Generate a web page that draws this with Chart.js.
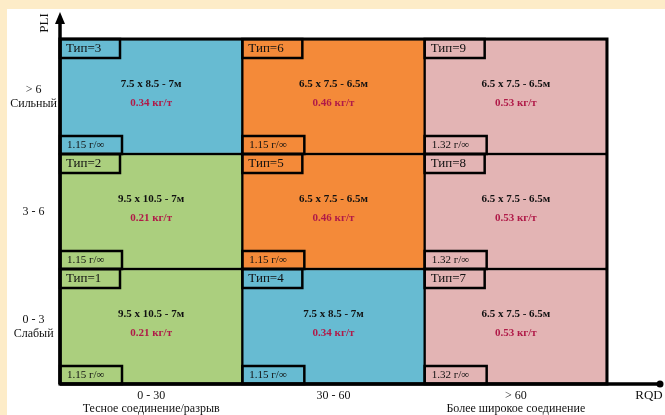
<!DOCTYPE html>
<html>
<head>
<meta charset="utf-8">
<style>
  html, body { margin: 0; padding: 0; background: #fdecc8; }
  canvas { display: block; }
</style>
<script src="https://cdn.jsdelivr.net/npm/chart.js@4/dist/chart.umd.min.js"></script>
</head>
<body>
<canvas id="chart" width="665" height="415"></canvas>
<script>
// RQD classes (columns) and PLI classes (rows, bottom to top)
const rqdClasses = ['0 - 30', '30 - 60', '> 60'];
const rqdNotes = ['Тесное соединение/разрыв', '', 'Более широкое соединение'];
const pliClasses = ['0 - 3', '3 - 6', '> 6'];
const pliNotes = ['Слабый', '', 'Сильный'];

// blast type in each cell, row = PLI class, column = RQD class
const typeGrid = [
  [1, 4, 7],
  [2, 5, 8],
  [3, 6, 9]
];

// per type (index = type - 1)
const patterns = ['9.5 x 10.5 - 7м', '9.5 x 10.5 - 7м', '7.5 x 8.5 - 7м', '7.5 x 8.5 - 7м',
  '6.5 x 7.5 - 6.5м', '6.5 x 7.5 - 6.5м', '6.5 x 7.5 - 6.5м', '6.5 x 7.5 - 6.5м', '6.5 x 7.5 - 6.5м'];
const powderFactors = [0.21, 0.21, 0.34, 0.34, 0.46, 0.46, 0.53, 0.53, 0.53];
const densities = [1.15, 1.15, 1.15, 1.15, 1.15, 1.15, 1.32, 1.32, 1.32];

// colours
const typeColors = ['#abcf7e', '#abcf7e', '#67bbd2', '#67bbd2', '#f48a39', '#f48a39', '#e3b4b4', '#e3b4b4', '#e3b4b4'];
const SERIF = "'Liberation Serif', 'DejaVu Serif', serif";
const PF_COLOR = '#b01a48';

const background = {
  id: 'background',
  beforeDraw(chart) {
    const ctx = chart.ctx;
    ctx.save();
    ctx.fillStyle = '#fdecc8';
    ctx.fillRect(0, 0, chart.width, chart.height);
    ctx.fillStyle = '#ffffff';
    ctx.fillRect(7, 9, chart.width - 7, chart.height - 9);
    ctx.restore();
  }
};

const cellLabels = {
  id: 'cellLabels',
  afterDatasetsDraw(chart) {
    const ctx = chart.ctx;
    const area = chart.chartArea;
    ctx.save();
    chart.data.datasets.forEach((ds, row) => {
      chart.getDatasetMeta(row).data.forEach((bar, col) => {
        const t = typeGrid[row][col];
        const left = bar.x - bar.width / 2;
        const right = bar.x + bar.width / 2;
        const top = Math.min(bar.y, bar.base);
        const bottom = Math.max(bar.y, bar.base);
        const cy = (top + bottom) / 2;

        // small boxes
        ctx.strokeStyle = '#000';
        ctx.lineWidth = 2.5;
        ctx.strokeRect(left, top, 60, 19);
        ctx.strokeRect(left, bottom - 18, 62, 18);

        ctx.fillStyle = '#111';
        ctx.textAlign = 'left';
        ctx.textBaseline = 'middle';
        ctx.font = '13px ' + SERIF;
        ctx.fillText('Тип=' + t, left + 6, top + 10);
        ctx.font = '11px ' + SERIF;
        ctx.fillText(densities[t - 1].toFixed(2) + ' г/∞', left + 7, bottom - 9);

        // centre text
        ctx.textAlign = 'center';
        ctx.font = 'bold 11px ' + SERIF;
        ctx.fillStyle = '#111';
        ctx.fillText(patterns[t - 1], bar.x, cy - 12);
        ctx.fillStyle = PF_COLOR;
        ctx.fillText(powderFactors[t - 1].toFixed(2) + ' кг/т', bar.x, cy + 7);
      });
    });

    // outer frame
    ctx.strokeStyle = '#000';
    ctx.lineWidth = 3;
    ctx.strokeRect(area.left, area.top, area.right - area.left, area.bottom - area.top);

    // axes with arrow and dot
    ctx.beginPath();
    ctx.moveTo(area.left, area.bottom);
    ctx.lineTo(area.left, 20);
    ctx.moveTo(area.left, area.bottom);
    ctx.lineTo(660, area.bottom);
    ctx.lineWidth = 3.5;
    ctx.stroke();
    ctx.fillStyle = '#000';
    ctx.beginPath();
    ctx.moveTo(area.left, 12);
    ctx.lineTo(area.left - 5, 24);
    ctx.lineTo(area.left + 5, 24);
    ctx.closePath();
    ctx.fill();
    ctx.beginPath();
    ctx.arc(660, area.bottom, 3.5, 0, Math.PI * 2);
    ctx.fill();

    // axis titles
    ctx.font = '13px ' + SERIF;
    ctx.fillStyle = '#111';
    ctx.textAlign = 'center';
    ctx.textBaseline = 'middle';
    ctx.fillText('RQD', 649, 396);
    ctx.translate(45, 23);
    ctx.rotate(-Math.PI / 2);
    ctx.fillText('PLI', 0, 0);
    ctx.restore();
  }
};

new Chart(document.getElementById('chart'), {
  type: 'bar',
  data: {
    labels: rqdClasses.map((c, i) => rqdNotes[i] ? [c, rqdNotes[i]] : c),
    datasets: pliClasses.map((p, row) => ({
      label: p,
      data: rqdClasses.map(() => 1),
      backgroundColor: typeGrid[row].map(t => typeColors[t - 1]),
      borderColor: '#000',
      borderWidth: 1.5,
      borderSkipped: false,
      barPercentage: 1,
      categoryPercentage: 1
    }))
  },
  options: {
    responsive: false,
    animation: false,
    layout: { padding: { left: 8, top: 39, right: 58, bottom: 0 } },
    plugins: { legend: { display: false }, tooltip: { enabled: false } },
    scales: {
      x: {
        stacked: true,
        grid: { display: false, drawTicks: false },
        border: { display: false },
        afterFit: scale => { scale.height = 31; },
        ticks: {
          padding: 5,
          color: '#111',
          maxRotation: 0,
          autoSkip: false,
          font: { family: SERIF, size: 12, lineHeight: 1.1 }
        }
      },
      y: {
        stacked: true,
        min: 0,
        max: 3,
        grid: { display: false, drawTicks: false },
        border: { display: false },
        afterFit: scale => { scale.width = 52; },
        afterBuildTicks: scale => {
          scale.ticks = pliClasses.map((p, i) => ({ value: i + 0.5 }));
        },
        ticks: {
          crossAlign: 'center',
          color: '#111',
          font: { family: SERIF, size: 12, lineHeight: 1.15 },
          callback: (value) => {
            const i = Math.floor(value);
            return pliNotes[i] ? [pliClasses[i], pliNotes[i]] : pliClasses[i];
          }
        }
      }
    }
  },
  plugins: [background, cellLabels]
});
</script>
</body>
</html>
